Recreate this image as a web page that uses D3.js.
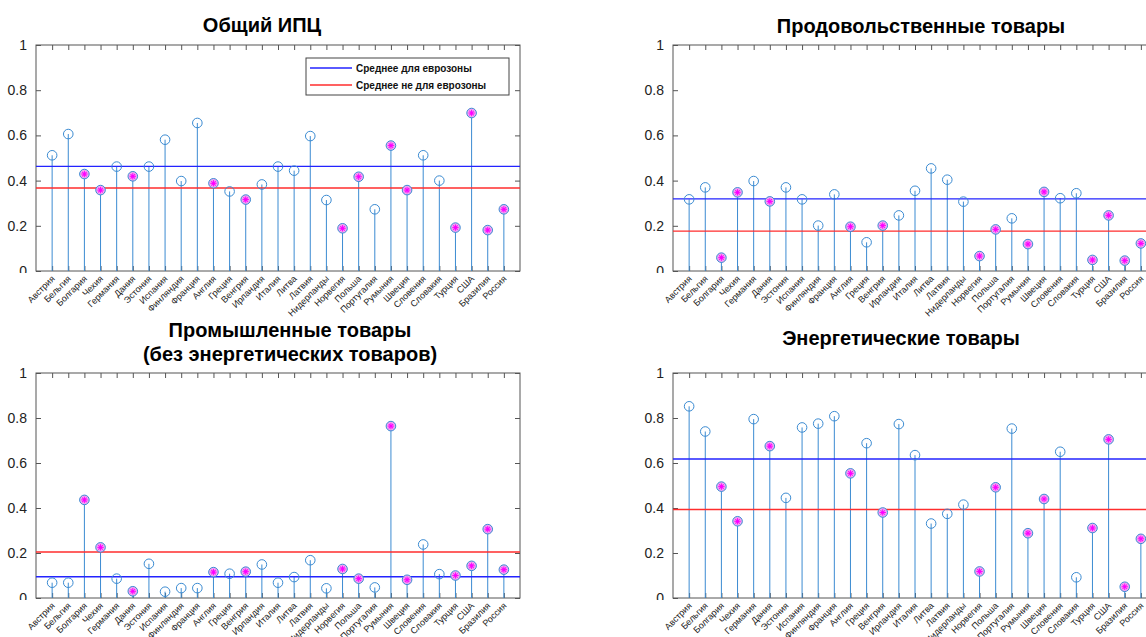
<!DOCTYPE html>
<html>
<head>
<meta charset="utf-8">
<script src="https://cdn.jsdelivr.net/npm/d3@7/dist/d3.min.js"></script>
<style>
  body { margin: 0; background: #fff; }
  svg { font-family: "Liberation Sans", Arial, Helvetica, sans-serif; }
</style>
</head>
<body>
<div id="chart"></div>
<script>
const countries = ['Австрия', 'Бельгия', 'Болгария', 'Чехия', 'Германия', 'Дания', 'Эстония', 'Испания',
  'Финляндия', 'Франция', 'Англия', 'Греция', 'Венгрия', 'Ирландия', 'Италия', 'Литва', 'Латвия',
  'Нидерланды', 'Норвегия', 'Польша', 'Португалия', 'Румыния', 'Швеция', 'Словения', 'Словакия',
  'Турция', 'США', 'Бразилия', 'Россия'];

// страны вне еврозоны (розовые маркеры)
const nonEuro = ['Болгария', 'Чехия', 'Дания', 'Англия', 'Венгрия', 'Норвегия', 'Польша', 'Румыния',
  'Швеция', 'Турция', 'США', 'Бразилия', 'Россия'];

const cpiTotal = [0.512, 0.606, 0.429, 0.358, 0.462, 0.419, 0.462, 0.581, 0.398, 0.655, 0.388, 0.352,
  0.316, 0.383, 0.462, 0.444, 0.597, 0.314, 0.189, 0.417, 0.273, 0.555, 0.358, 0.512, 0.400, 0.192,
  0.699, 0.181, 0.273];
const cpiFood = [0.317, 0.370, 0.059, 0.348, 0.398, 0.308, 0.370, 0.317, 0.201, 0.339, 0.196, 0.127,
  0.201, 0.246, 0.355, 0.454, 0.404, 0.307, 0.066, 0.184, 0.233, 0.119, 0.350, 0.322, 0.344, 0.049,
  0.246, 0.046, 0.122];
const cpiGoods = [0.068, 0.068, 0.436, 0.225, 0.086, 0.030, 0.152, 0.028, 0.044, 0.044, 0.115, 0.108,
  0.117, 0.149, 0.068, 0.093, 0.168, 0.043, 0.129, 0.086, 0.047, 0.764, 0.081, 0.238, 0.106, 0.100,
  0.143, 0.306, 0.126];
const cpiEnergy = [0.852, 0.740, 0.495, 0.341, 0.795, 0.675, 0.445, 0.758, 0.775, 0.808, 0.554, 0.688,
  0.380, 0.773, 0.635, 0.331, 0.374, 0.415, 0.118, 0.492, 0.753, 0.288, 0.440, 0.650, 0.092, 0.311,
  0.705, 0.050, 0.263];

const yTicks = [0, 0.2, 0.4, 0.6, 0.8, 1];
const legendLabels = ['Среднее для еврозоны', 'Среднее не для еврозоны'];

const panels = [
  { title: ['Общий ИПЦ'], values: cpiTotal, x0: 36, x1: 520, top: 45, bottom: 271, tx: 262, ty: 32, legend: true },
  { title: ['Продовольственные товары'], values: cpiFood, x0: 673, x1: 1157, top: 45, bottom: 271, tx: 921, ty: 33 },
  { title: ['Промышленные товары', '(без энергетических товаров)'], values: cpiGoods, x0: 36, x1: 520, top: 373, bottom: 598, tx: 290, ty: 337 },
  { title: ['Энергетические товары'], values: cpiEnergy, x0: 673, x1: 1157, top: 373, bottom: 598, tx: 901, ty: 345 }
];

const width = 1146;
const height = 637;
const stemColor = '#3b8bd2';
const axisColor = '#555';
const euroColor = '#2323ff';
const nonEuroColor = '#ff2d2d';

const svg = d3.select('#chart')
  .append('svg')
  .attr('width', width)
  .attr('height', height);

panels.forEach((p, pi) => {
  const x = d3.scaleLinear().domain([0, countries.length + 1]).range([p.x0, p.x1]);
  const y = d3.scaleLinear().domain([0, 1]).range([p.bottom, p.top]);
  const g = svg.append('g');

  const isNon = countries.map(c => nonEuro.includes(c));
  const meanEuro = d3.mean(p.values.filter((v, i) => !isNon[i]));
  const meanNon = d3.mean(p.values.filter((v, i) => isNon[i]));

  // заголовок
  g.append('text')
    .attr('x', p.tx)
    .attr('y', p.ty)
    .attr('text-anchor', 'middle')
    .attr('font-size', 20)
    .attr('font-weight', 'bold')
    .selectAll('tspan')
    .data(p.title)
    .enter()
    .append('tspan')
      .attr('x', p.tx)
      .attr('dy', (d, i) => i === 0 ? 0 : 24)
      .text(d => d);

  // рамка
  g.append('rect')
    .attr('x', p.x0)
    .attr('y', p.top)
    .attr('width', p.x1 - p.x0)
    .attr('height', p.bottom - p.top)
    .attr('fill', 'none')
    .attr('stroke', axisColor)
    .attr('stroke-width', 1);

  // ось Y (слева и справа, засечки внутрь); подпись "0" обрезана снизу, как в оригинале
  const clipId = 'yclip' + pi;
  svg.append('clipPath').attr('id', clipId)
    .append('rect')
    .attr('x', -200).attr('y', 0)
    .attr('width', 400).attr('height', p.bottom + 2);

  const yAxisL = g.append('g')
    .attr('transform', 'translate(' + p.x0 + ',0)')
    .attr('clip-path', 'url(#' + clipId + ')')
    .call(d3.axisLeft(y).tickValues(yTicks).tickSize(-5).tickPadding(9).tickFormat(d3.format('~g')));
  yAxisL.select('.domain').remove();
  yAxisL.selectAll('line').attr('stroke', axisColor);
  yAxisL.selectAll('text')
    .attr('font-size', 14)
    .attr('fill', '#222')
    .style('font-family', '"Liberation Sans", Arial, sans-serif');

  const yAxisR = g.append('g')
    .attr('transform', 'translate(' + p.x1 + ',0)')
    .call(d3.axisRight(y).tickValues(yTicks).tickSize(-5).tickFormat(''));
  yAxisR.select('.domain').remove();
  yAxisR.selectAll('line').attr('stroke', axisColor);

  // ось X снизу и сверху
  const xTicks = d3.range(1, countries.length + 1);
  const xAxisB = g.append('g')
    .attr('transform', 'translate(0,' + p.bottom + ')')
    .call(d3.axisBottom(x).tickValues(xTicks).tickSize(-5).tickFormat(''));
  xAxisB.select('.domain').remove();
  xAxisB.selectAll('line').attr('stroke', axisColor);

  const xAxisT = g.append('g')
    .attr('transform', 'translate(0,' + p.top + ')')
    .call(d3.axisTop(x).tickValues(xTicks).tickSize(-5).tickFormat(''));
  xAxisT.select('.domain').remove();
  xAxisT.selectAll('line').attr('stroke', axisColor);

  g.selectAll('.xlabel')
    .data(countries)
    .enter()
    .append('text')
      .attr('class', 'xlabel')
      .attr('transform', (d, i) => 'translate(' + (x(i + 1) + 1) + ',' + (p.bottom + 6) + ') rotate(-45)')
      .attr('text-anchor', 'end')
      .attr('dy', '0.35em')
      .attr('font-size', 9)
      .attr('fill', '#222')
      .text(d => d);

  // стебли
  g.selectAll('.stem')
    .data(p.values)
    .enter()
    .append('line')
      .attr('class', 'stem')
      .attr('x1', (d, i) => x(i + 1))
      .attr('x2', (d, i) => x(i + 1))
      .attr('y1', y(0))
      .attr('y2', d => y(d))
      .attr('stroke', stemColor)
      .attr('stroke-width', 1);

  // средние
  g.append('line')
    .attr('x1', p.x0).attr('x2', p.x1)
    .attr('y1', y(meanEuro)).attr('y2', y(meanEuro))
    .attr('stroke', euroColor).attr('stroke-width', 1.3);
  g.append('line')
    .attr('x1', p.x0).attr('x2', p.x1)
    .attr('y1', y(meanNon)).attr('y2', y(meanNon))
    .attr('stroke', nonEuroColor).attr('stroke-width', 1.3);

  // маркеры
  const m = g.selectAll('.marker')
    .data(p.values)
    .enter()
    .append('g')
      .attr('class', 'marker')
      .attr('transform', (d, i) => 'translate(' + x(i + 1) + ',' + y(d) + ')');

  m.append('circle')
    .attr('r', 4.8)
    .attr('fill', (d, i) => isNon[i] ? '#f2a6f2' : 'none')
    .attr('stroke', stemColor)
    .attr('stroke-width', 1);

  const star = m.filter((d, i) => isNon[i]);
  [0, 45, 90, 135].forEach(a => {
    star.append('line')
      .attr('x1', -3.2).attr('x2', 3.2)
      .attr('y1', 0).attr('y2', 0)
      .attr('transform', 'rotate(' + a + ')')
      .attr('stroke', '#ff00ff')
      .attr('stroke-width', 1);
  });
  star.append('circle').attr('r', 1.3).attr('fill', '#ff00ff');

  // легенда
  if (p.legend) {
    const lg = g.append('g');
    lg.append('rect')
      .attr('x', 306).attr('y', 58)
      .attr('width', 203).attr('height', 37)
      .attr('fill', '#fff')
      .attr('stroke', '#444')
      .attr('stroke-width', 1);
    const colors = [euroColor, nonEuroColor];
    legendLabels.forEach((label, i) => {
      const ly = 68 + i * 17;
      lg.append('line')
        .attr('x1', 310).attr('x2', 352)
        .attr('y1', ly).attr('y2', ly)
        .attr('stroke', colors[i]).attr('stroke-width', 1.3);
      lg.append('text')
        .attr('x', 356).attr('y', ly)
        .attr('dy', '0.35em')
        .attr('font-size', 10)
        .attr('font-weight', 'bold')
        .attr('fill', '#111')
        .text(label);
    });
  }
});
</script>
</body>
</html>
